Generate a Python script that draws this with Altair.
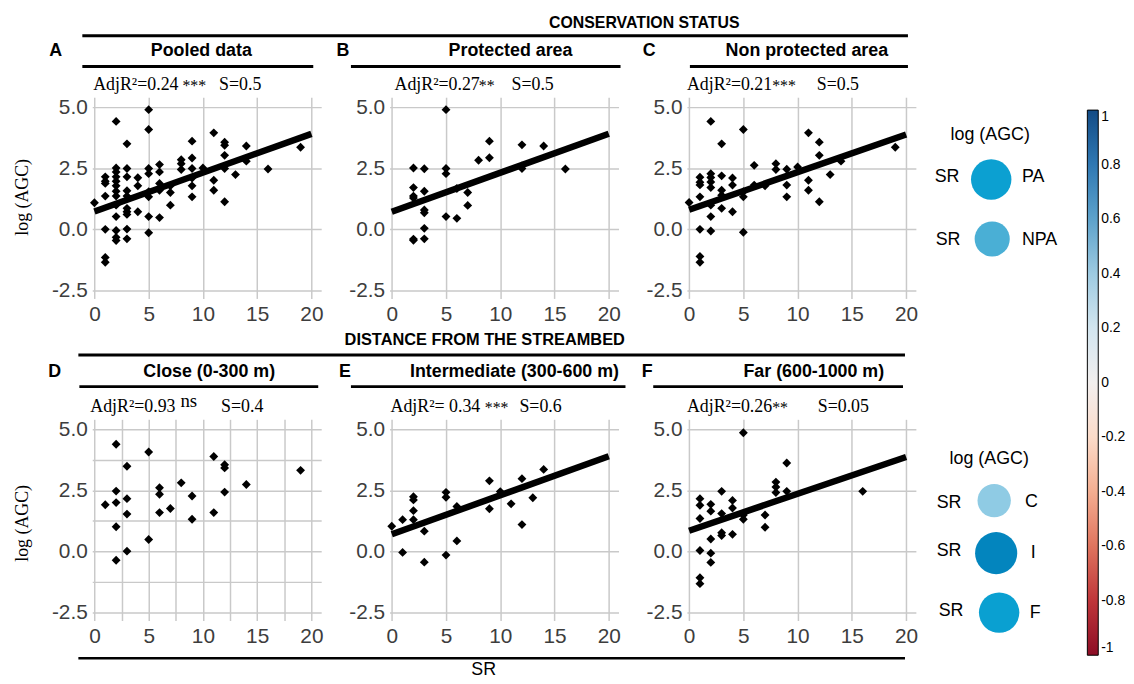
import math
import altair as alt
import pandas as pd

SANS = "Liberation Sans"
SERIF = "Liberation Serif"

# ---------------- data ----------------
sr_ticks = [0, 2.5, 5, 7.5, 10, 12.5, 15, 17.5, 20]
agc_ticks = [-2.5, -1.25, 0, 1.25, 2.5, 3.75, 5]
colorbar_ticks = [1, 0.8, 0.6, 0.4, 0.2, 0, -0.2, -0.4, -0.6, -0.8, -1]

# log(AGC) values grouped by species richness (SR)
pooled = {0: [1.09], 1: [2.15, 1.97, 1.88, 1.36, 0.0, -1.15, -1.35],
          2: [4.42, 2.51, 2.35, 2.15, 1.97, 1.78, 1.56, 1.36, 0.99, 0.52, -0.05, -0.33, -0.46],
          3: [3.5, 2.49, 2.15, 1.58, 1.36, 0.86, 0.72, 0.61, 0.01, -0.39],
          4: [2.11, 1.78, 0.72], 5: [4.9, 4.09, 2.49, 2.28, 1.54, 1.33, 0.52, -0.14],
          6: [2.65, 2.35, 1.88, 1.6, 0.48], 7: [1.78, 1.51, 0.99], 8: [2.85, 2.69, 2.45],
          9: [3.61, 2.92, 2.49, 2.1, 1.78, 1.33], 10: [2.51], 11: [3.95, 2.01, 1.6],
          12: [3.57, 3.44, 3.03, 2.49, 1.13], 13: [2.24], 14: [3.41, 2.79], 16: [2.47], 19: [3.36]}
protected = {2: [2.51, 1.71, 1.36, 1.28, -0.40, -0.45], 3: [2.48, 1.56, 0.79, 0.68, 0.04, -0.39],
             5: [4.9, 2.49, 2.28, 0.52], 6: [1.67, 0.45], 7: [1.51, 0.98], 8: [2.83],
             9: [3.61, 2.93], 12: [3.46, 2.6, 2.49], 14: [3.41], 16: [2.47]}
non_protected = {0: [1.1], 1: [2.13, 1.93, 1.82, 1.33, 0.0, -1.11, -1.35],
                 2: [4.42, 2.28, 2.12, 1.94, 1.71, 0.99, 0.52, -0.07], 3: [3.5, 2.19, 1.6, 1.4, 0.86],
                 4: [2.1, 1.81, 0.72], 5: [4.09, 1.54, 1.33, -0.12], 6: [2.62, 1.81], 7: [1.78],
                 8: [2.69, 2.45], 9: [2.46, 1.81, 1.33], 10: [2.55], 11: [3.95, 2.01, 1.6],
                 12: [3.57, 3.03, 1.13], 13: [2.24], 14: [2.79], 19: [3.36]}
close = {1: [1.91], 2: [4.39, 2.47, 2.0, 1.01, -0.36], 3: [3.49, 2.16, 1.53, 0.01], 5: [4.07, 0.49],
         6: [2.61, 2.34, 1.59], 7: [1.76], 8: [2.81], 9: [2.27, 1.32], 11: [3.89, 1.59],
         12: [3.55, 3.42, 2.43], 14: [2.74], 19: [3.32]}
intermediate = {0: [1.03], 1: [1.3, -0.04], 2: [2.24, 2.11, 1.67, 1.3], 3: [0.83, -0.44],
                5: [2.42, 2.22, -0.15], 6: [1.84, 0.43], 9: [2.89, 1.75], 10: [2.45], 11: [1.95],
                12: [2.98, 1.1], 13: [2.2], 14: [3.36]}
far = {1: [2.16, 1.89, 1.35, 0.04, -1.08, -1.32], 2: [1.93, 1.65, 0.51, -0.07, -0.45],
       3: [2.46, 1.55, 0.77, 0.65], 4: [2.09, 1.78, 0.7], 5: [4.86, 1.49, 1.32], 7: [1.49, 0.99],
       8: [2.84, 2.64, 2.41], 9: [3.62, 2.46], 16: [2.46]}

fit_sr = [0, 20]
fit_pooled = [0.73, 3.91]
fit_protected = [0.72, 3.91]
fit_non_protected = [0.80, 3.88]
fit_intermediate = [0.70, 3.90]
fit_far = [0.85, 3.87]

panel_letters = ["A", "B", "C", "D", "E", "F"]
panel_titles = ["Pooled data", "Protected area", "Non protected area",
                "Close (0-300 m)", "Intermediate (300-600 m)", "Far (600-1000 m)"]
adj_r2 = ["AdjR²=0.24", "AdjR²=0.27", "AdjR²=0.21", "AdjR²=0.93", "AdjR²= 0.34", "AdjR²=0.26"]
signif = ["***", "**", "***", "ns", "***", "**"]
s_text = ["S=0.5", "S=0.5", "S=0.5", "S=0.4", "S=0.6", "S=0.05"]

legend_top_labels = ["PA", "NPA"]
legend_bottom_labels = ["C", "I", "F"]

# ---------------- layout (page pixels) ----------------
W = 231
H = 203
COL_GAP = 69
ROW_GAP = 122
X0, Y0 = 92, 95
ORIG = [(X0 + c * (W + COL_GAP), Y0 + r * (H + ROW_GAP)) for r in range(2) for c in range(3)]
title_cx = [202, 514, 813, 210, 518, 820]
letter_x = [55, 345, 654, 54, 347, 652]
strip_line = [(82, 315), (353, 625), (695, 915), (79, 320), (353, 630), (658, 910)]
stat_x = [93, 397, 692, 90, 393, 692]
stars_x = [183, 482, 778, 181, 488, 778]
s_x = [220, 515, 823, 222, 523, 824]

ONE = pd.DataFrame({"k": [0]})


def dtext(o, x, y, s, size, font=SANS, weight="normal", align="center", angle=0, color="black"):
    ox, oy = o
    return alt.Chart(ONE).mark_text(
        align=align, baseline="middle", font=font, fontSize=size, fontWeight=weight,
        angle=angle, color=color
    ).encode(x=alt.value(x - ox), y=alt.value(y - oy), text=alt.value(s))


def drule(o, x1, x2, y, width=3, color="black"):
    ox, oy = o
    return alt.Chart(ONE).mark_rule(color=color, strokeWidth=width).encode(
        x=alt.value(x1 - ox), x2=alt.value(x2 - ox), y=alt.value(y - oy))


def dcircle(o, cx, cy, r, color):
    ox, oy = o
    return alt.Chart(ONE).mark_circle(color=color, opacity=1, size=math.pi * r * r).encode(
        x=alt.value(cx - ox), y=alt.value(cy - oy))


xscale = alt.Scale(domain=[-0.2, 20.9], nice=False, zero=False)
yscale = alt.Scale(domain=[-2.83, 5.41], nice=False, zero=False)
xaxis = alt.Axis(values=sr_ticks, title=None, labelFlush=False, labelOverlap=False,
                 labelExpr="datum.value % 5 == 0 ? format(datum.value, 'd') : ''", labelPadding=5)
yaxis = alt.Axis(values=agc_ticks, title=None, labelOverlap=False,
                 labelExpr="datum.value % 2.5 == 0 ? replace(format(datum.value, '.1f'), '\u2212', '-') : ''",
                 labelPadding=5)


def panel(i, groups, fit):
    o = ORIG[i]
    row_top = i < 3
    df = pd.DataFrame([(sr, v) for sr, vals in groups.items() for v in vals], columns=["SR", "AGC"])
    layers = [alt.Chart(df).mark_point(shape="diamond", filled=True, size=80, color="black", opacity=1).encode(
        x=alt.X("SR:Q", scale=xscale, axis=xaxis), y=alt.Y("AGC:Q", scale=yscale, axis=yaxis))]
    if fit is not None:
        fdf = pd.DataFrame({"SR": fit_sr, "AGC": fit})
        layers.append(alt.Chart(fdf).mark_line(color="black", strokeWidth=6.5).encode(x="SR:Q", y="AGC:Q"))
    ty = 48 if row_top else 372
    ly = 64 if row_top else 387
    sy = 83 if row_top else 408
    layers += [
        drule(o, strip_line[i][0], strip_line[i][1], ly, 3),
        dtext(o, title_cx[i], ty, panel_titles[i], 18, weight="bold"),
        dtext(o, letter_x[i], ty, panel_letters[i], 18, weight="bold"),
        dtext(o, stat_x[i], sy, adj_r2[i], 18, font=SERIF, align="left"),
        dtext(o, s_x[i], sy, s_text[i], 18, font=SERIF, align="left"),
    ]
    if signif[i] == "ns":
        layers.append(dtext(o, stars_x[i], sy - 6, "ns", 19, font=SERIF, align="left"))
    else:
        layers.append(dtext(o, stars_x[i], sy + 1, signif[i], 16, font=SERIF, align="left"))
    return layers


# panel A (+ row-1 furniture)
la = panel(0, pooled, fit_pooled)
oA = ORIG[0]
la += [
    drule(oA, 8, 9, 8.5, 1, color="white"),
    drule(oA, 82, 915, 33, 3),
    dtext(oA, 649, 20, "CONSERVATION STATUS", 16, weight="bold"),
    dtext(oA, 22, 196, "log (AGC)", 18, font=SERIF, angle=270),
]
pA = alt.layer(*la).properties(width=W, height=H)

pB = alt.layer(*panel(1, protected, fit_protected)).properties(width=W, height=H)

lc = panel(2, non_protected, fit_non_protected)
oC = ORIG[2]
lc += [
    dtext(oC, 998, 133, "log (AGC)", 18),
    dcircle(oC, 999, 178, 23, "#0CA0D1"),
    dtext(oC, 967, 176, "SR", 18, align="right"),
    dtext(oC, 1030, 176, legend_top_labels[0], 18, align="left"),
    dcircle(oC, 1000, 238, 20, "#4AAFD5"),
    dtext(oC, 968, 239, "SR", 18, align="right"),
    dtext(oC, 1030, 239, legend_top_labels[1], 18, align="left"),
    alt.Chart(pd.DataFrame({"r": colorbar_ticks})).mark_point(size=0, filled=True, opacity=1).encode(
        x=alt.value(0), y=alt.value(0),
        color=alt.Color("r:Q", scale=alt.Scale(scheme="redblue", domain=[-1, 1]),
                        legend=alt.Legend(orient="none", legendX=404, legendY=108 - oC[1],
                                          direction="vertical", gradientLength=550, gradientThickness=11,
                                          gradientStrokeColor="black", gradientStrokeWidth=1,
                                          values=colorbar_ticks, labelFontSize=14, labelFont=SANS,
                                          labelColor="black", labelOffset=3, title=None, padding=0,
                                          labelOverlap=False,
                                          labelExpr="replace(format(datum.value, '~g'), '\u2212', '-')")))
]
pC = alt.layer(*lc).properties(width=W, height=H)

ld = panel(3, close, None)
oD = ORIG[3]
ld += [
    drule(oD, 78, 912, 355, 3),
    dtext(oD, 488, 340, "DISTANCE FROM THE STREAMBED", 16.5, weight="bold"),
    dtext(oD, 22, 525, "log (AGC)", 18, font=SERIF, angle=270),
    drule(oD, 78, 912, 661, 2.5),
    dtext(oD, 487, 673, "SR", 18),
]
pD = alt.layer(*ld).properties(width=W, height=H)

pE = alt.layer(*panel(4, intermediate, fit_intermediate)).properties(width=W, height=H)

lf = panel(5, far, fit_far)
oF = ORIG[5]
lf += [
    dtext(oF, 997, 460, "log (AGC)", 18),
    dcircle(oF, 1002, 502, 19, "#8FCBE4"),
    dtext(oF, 969, 504, "SR", 18, align="right"),
    dtext(oF, 1033, 503, legend_bottom_labels[0], 18, align="left"),
    dcircle(oF, 1004, 555, 24, "#0385BE"),
    dtext(oF, 969, 553, "SR", 18, align="right"),
    dtext(oF, 1039, 555, legend_bottom_labels[1], 18, align="left"),
    dcircle(oF, 1007, 615, 23, "#0AA0D1"),
    dtext(oF, 971, 613, "SR", 18, align="right"),
    dtext(oF, 1038, 615, legend_bottom_labels[2], 18, align="left"),
]
pF = alt.layer(*lf).properties(width=W, height=H)

chart = alt.concat(pA, pB, pC, pD, pE, pF, columns=3, bounds="flush",
                   spacing=alt.RowColnumber(row=ROW_GAP, column=COL_GAP)).properties(
    padding=0, background="white"
).configure_view(strokeWidth=0).configure_axis(
    labelFont=SANS, labelFontSize=21, labelColor="#3D3D3D", gridColor="#C9C9C9", gridWidth=1.5,
    domain=False, ticks=False
).resolve_scale(color="independent")

chart.save("out.html", embed_options={"renderer": "svg", "actions": False})
